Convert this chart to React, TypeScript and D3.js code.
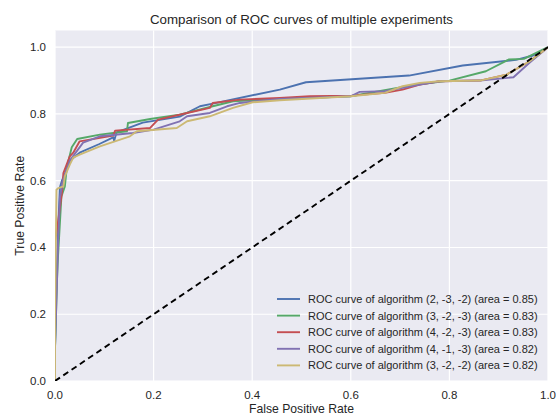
import React from "react";
import * as d3 from "d3";

const W = 556;
const H = 416;
const M = { top: 30.5, right: 8, bottom: 35, left: 55 };

const TITLE = "Comparison of ROC curves of multiple experiments";
const X_TICKS = [0, 0.2, 0.4, 0.6, 0.8, 1.0];
const Y_TICKS = [0, 0.2, 0.4, 0.6, 0.8, 1.0];

const COLORS = ["#4C72B0", "#55A868", "#C44E52", "#8172B2", "#CCB974"];
const LABELS = [
  "ROC curve of algorithm (2, -3, -2) (area = 0.85)",
  "ROC curve of algorithm (3, -2, -3) (area = 0.83)",
  "ROC curve of algorithm (4, -2, -3) (area = 0.83)",
  "ROC curve of algorithm (4, -1, -3) (area = 0.82)",
  "ROC curve of algorithm (3, -2, -2) (area = 0.82)",
];

// [fpr, tpr]
const roc1 = [[0,0],[0,0.1],[0.003,0.3],[0.007,0.48],[0.01,0.58],[0.014,0.6],[0.02,0.62],[0.03,0.66],[0.05,0.684],[0.09,0.71],[0.118,0.73],[0.12,0.72],[0.125,0.745],[0.178,0.774],[0.253,0.792],[0.294,0.823],[0.32,0.831],[0.456,0.873],[0.509,0.895],[0.718,0.915],[0.827,0.945],[0.935,0.962],[0.97,0.975],[1,1]];
const roc2 = [[0,0],[0,0.1],[0.004,0.3],[0.006,0.37],[0.013,0.553],[0.02,0.583],[0.024,0.64],[0.034,0.7],[0.045,0.725],[0.091,0.738],[0.146,0.748],[0.148,0.773],[0.193,0.785],[0.253,0.798],[0.32,0.823],[0.361,0.838],[0.456,0.845],[0.6,0.853],[0.72,0.885],[0.8,0.9],[0.874,0.928],[0.92,0.963],[0.951,0.965],[1,1]];
const roc3 = [[0,0],[0,0.2],[0,0.42],[0.003,0.443],[0.014,0.563],[0.017,0.623],[0.03,0.673],[0.037,0.684],[0.05,0.718],[0.118,0.735],[0.122,0.75],[0.193,0.758],[0.209,0.783],[0.268,0.803],[0.314,0.818],[0.32,0.833],[0.375,0.843],[0.456,0.848],[0.517,0.853],[0.602,0.855],[0.669,0.863],[0.705,0.873],[0.74,0.888],[0.78,0.898],[0.862,0.9],[0.916,0.918],[0.963,0.958],[1,1]];
const roc4 = [[0,0],[0,0.1],[0.002,0.2],[0.006,0.4],[0.01,0.55],[0.016,0.6],[0.03,0.66],[0.057,0.714],[0.091,0.733],[0.158,0.743],[0.2,0.753],[0.253,0.778],[0.268,0.793],[0.314,0.803],[0.349,0.823],[0.375,0.833],[0.456,0.845],[0.6,0.853],[0.618,0.866],[0.669,0.868],[0.74,0.888],[0.78,0.898],[0.862,0.9],[0.93,0.91],[0.963,0.954],[1,1]];
const roc5 = [[0,0],[0,0.193],[0.003,0.573],[0.007,0.578],[0.017,0.583],[0.02,0.613],[0.03,0.648],[0.037,0.669],[0.05,0.678],[0.091,0.703],[0.152,0.733],[0.166,0.748],[0.247,0.758],[0.268,0.778],[0.314,0.793],[0.361,0.818],[0.401,0.835],[0.456,0.841],[0.6,0.853],[0.669,0.863],[0.705,0.883],[0.74,0.893],[0.78,0.898],[0.862,0.9],[0.916,0.918],[0.963,0.958],[1,1]];

const CURVES = [roc1, roc2, roc3, roc4, roc5];

const FONT = "'Liberation Sans', Arial, sans-serif";

const App = () => {
  const x = d3.scaleLinear().domain([0, 1]).range([M.left, W - M.right]);
  const y = d3.scaleLinear().domain([0, 1.05]).range([H - M.bottom, M.top]);
  const line = d3.line<number[]>().x((d) => x(d[0])).y((d) => y(d[1]));

  const legendX = 277;
  const legendY = 299;
  const legendStep = 16.6;

  return (
    <svg width={W} height={H} style={{ position: "absolute", left: 0, top: 0 }} fontFamily={FONT}>
      <rect width={W} height={H} fill="white" />
      <rect x={x(0)} y={y(1.05)} width={x(1) - x(0)} height={y(0) - y(1.05)} fill="#EAEAF2" />
      {X_TICKS.map((t) => (
        <line key={"gx" + t} x1={x(t)} x2={x(t)} y1={y(0)} y2={y(1.05)} stroke="white" strokeWidth={1.2} />
      ))}
      {Y_TICKS.map((t) => (
        <line key={"gy" + t} x1={x(0)} x2={x(1)} y1={y(t)} y2={y(t)} stroke="white" strokeWidth={1.2} />
      ))}
      <defs>
        <clipPath id="plot">
          <rect x={x(0)} y={y(1.05)} width={x(1) - x(0)} height={y(0) - y(1.05)} />
        </clipPath>
      </defs>
      <g clipPath="url(#plot)">
        {CURVES.map((c, i) => (
          <path key={i} d={line(c) || ""} fill="none" stroke={COLORS[i]} strokeWidth={1.9} strokeLinejoin="round" />
        ))}
        <line x1={x(0)} y1={y(0)} x2={x(1)} y2={y(1)} stroke="black" strokeWidth={1.9} strokeDasharray="6,4" />
      </g>
      {X_TICKS.map((t) => (
        <text key={"tx" + t} x={x(t)} y={y(0) + 18} textAnchor="middle" fontSize={11.5} fill="#262626">
          {t.toFixed(1)}
        </text>
      ))}
      {Y_TICKS.map((t) => (
        <text key={"ty" + t} x={x(0) - 9} y={y(t) + 4} textAnchor="end" fontSize={11.5} fill="#262626">
          {t.toFixed(1)}
        </text>
      ))}
      <text x={(x(0) + x(1)) / 2} y={24} textAnchor="middle" fontSize={13.3} fill="#262626">
        {TITLE}
      </text>
      <text x={(x(0) + x(1)) / 2} y={413} textAnchor="middle" fontSize={12.2} fill="#262626">
        False Positive Rate
      </text>
      <text
        transform={`translate(24,${(y(0) + y(1.05)) / 2}) rotate(-90)`}
        textAnchor="middle"
        fontSize={12.2}
        fill="#262626"
      >
        True Positive Rate
      </text>
      {LABELS.map((l, i) => (
        <g key={l} transform={`translate(${legendX},${legendY + i * legendStep})`}>
          <line x1={0} x2={23} y1={0} y2={0} stroke={COLORS[i]} strokeWidth={1.9} />
          <text x={31} y={4} fontSize={11} fill="#262626">
            {l}
          </text>
        </g>
      ))}
    </svg>
  );
};

export default App;
